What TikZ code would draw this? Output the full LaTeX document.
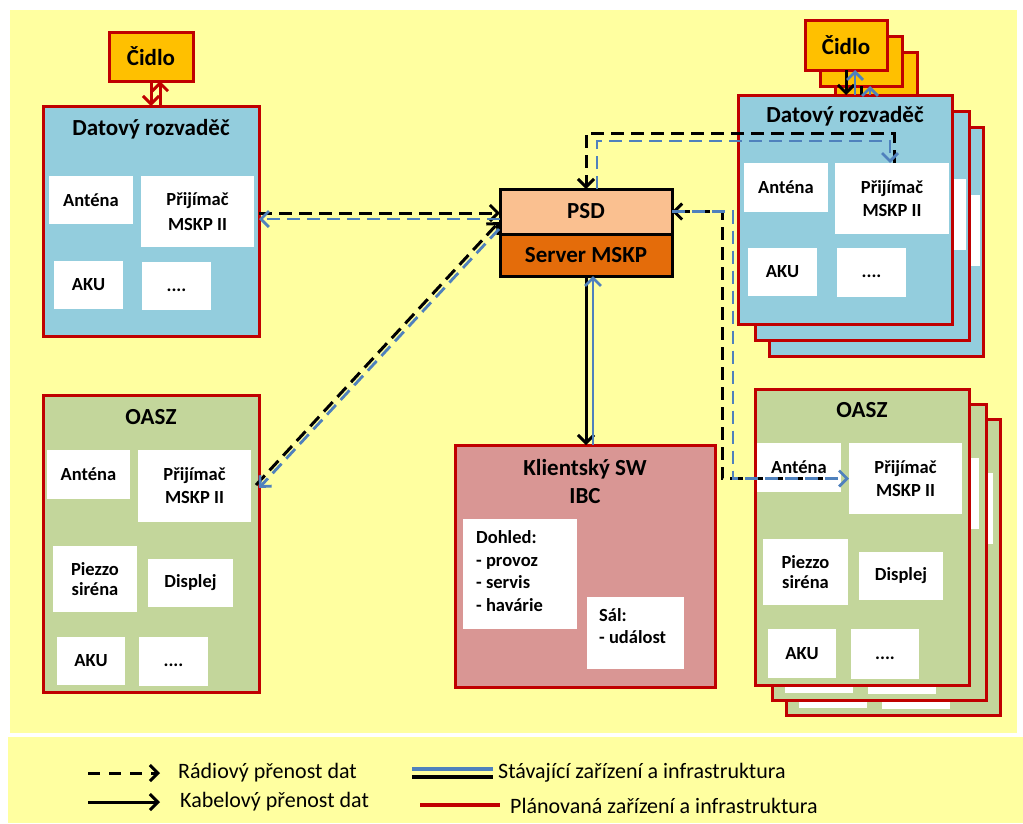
\documentclass[tikz,border=0pt]{standalone}
\usepackage{fontspec}
\setmainfont{Carlito}
\usetikzlibrary{arrows.meta,calc}

\definecolor{panel}{HTML}{FFFFA0}
\definecolor{frame}{HTML}{C00000}
\definecolor{rackblue}{HTML}{93CDDD}
\definecolor{sirengreen}{HTML}{C3D69B}
\definecolor{clientpink}{HTML}{D99694}
\definecolor{sensor}{HTML}{FFC000}
\definecolor{psdfill}{HTML}{FAC090}
\definecolor{srvfill}{HTML}{E46C0A}
\definecolor{linkblue}{HTML}{4F81BD}

\newcommand\moredots{\raisebox{-5pt}[0pt][0pt]{....}}

\tikzset{
  % rectangle given by its two corners (x1,y1) (x2,y2)
  area/.style n args={4}{minimum width={(#3)-(#1)}, minimum height={(#4)-(#2)},
                         at={({((#1)+(#3))/2},{((#2)+(#4))/2})}},
  unit/.style={draw=frame, line width=3pt, inner sep=0pt, outer sep=0pt},
  rack/.style={unit, fill=rackblue},
  siren/.style={unit, fill=sirengreen},
  client/.style={unit, fill=clientpink},
  sensorbox/.style={unit, fill=sensor, font=\bfseries\fontsize{23}{27}\selectfont},
  part/.style={fill=white, inner sep=0pt, outer sep=0pt, align=center,
               font=\bfseries\fontsize{18.5}{23}\selectfont},
  tightpart/.style={part, font=\bfseries\fontsize{18.5}{20.5}\selectfont},
  blank/.style={fill=white, inner sep=0pt, outer sep=0pt},
  caption/.style={inner sep=0pt, align=center, font=\bfseries\fontsize{23}{28}\selectfont},
  notes/.style={inner sep=0pt, align=left, anchor=west, font=\bfseries\fontsize{18.5}{22.5}\selectfont},
  psdbox/.style={draw=black, line width=3pt, inner sep=0pt, outer sep=0pt,
                 font=\bfseries\fontsize{23}{28}\selectfont},
  barb/.style={-{Straight Barb[length=8pt,width=16pt]}},
  radioK/.style={draw=black, line width=3pt, dash pattern=on 13pt off 7pt},
  radioB/.style={draw=linkblue, line width=2.8pt, dash pattern=on 13pt off 7pt},
  cableK/.style={draw=black, line width=3pt},
  cableB/.style={draw=linkblue, line width=2.8pt},
  cableR/.style={draw=frame, line width=3pt},
  legendtext/.style={inner sep=0pt, anchor=west, font=\fontsize{22}{26}\selectfont},
}

\begin{document}
\begin{tikzpicture}[x=1pt,y=-1pt]
\useasboundingbox (0,0) rectangle (1023,823);
\fill[white] (0,0) rectangle (1023,823);
\fill[panel] (10,10) rectangle (1017,733);
\fill[panel] (8,737) rectangle (1023,823);

% ---------- left sensor and data cabinet ----------
\node[sensorbox, area={109}{32}{193}{81}] (cl) {Čidlo};
\node[rack, area={43}{106}{259}{336}] (dl) {};
\node[caption] (dl-t) at (151,129) {Datový rozvaděč};
\node[part, area={49}{176}{133}{224}] (dl-a) {Anténa};
\node[part, area={141}{176}{254}{247}, font=\bfseries\fontsize{18.5}{25}\selectfont] (dl-r) {Přijímač\\MSKP II};
\node[part, area={54}{261}{123}{309}] (dl-k) {AKU};
\node[part, area={142}{262}{211}{310}] (dl-x) {\moredots};

% ---------- left siren unit ----------
\node[siren, area={43}{395}{259}{692}] (ol) {};
\node[caption] (ol-t) at (151,417) {OASZ};
\node[part, area={47}{450}{130}{499}] (ol-a) {Anténa};
\node[part, area={138}{450}{251}{522}] (ol-r) {Přijímač\\MSKP II};
\node[tightpart, area={53}{546}{137}{612}] (ol-p) {Piezzo\\siréna};
\node[part, area={148}{559}{233}{607}] (ol-d) {Displej};
\node[part, area={57}{637}{125}{685}] (ol-k) {AKU};
\node[part, area={139}{637}{208}{686}] (ol-x) {\moredots};

% ---------- central server ----------
\node[psdbox, fill=psdfill, area={500}{189}{672}{234}] (psd) {PSD};
\node[psdbox, fill=srvfill, area={500}{234}{672}{276}] (srv) {Server MSKP};

% ---------- client software ----------
\node[client, area={455}{445}{715}{687}] (kl) {};
\node[caption] (kl-t) at (585,481) {Klientský SW\\IBC};
\node[blank, area={463}{519}{577}{629}] (kl-d) {};
\node[notes] (kl-dt) at (476,571) {Dohled:\\- provoz\\- servis\\- havárie};
\node[blank, area={587}{597}{684}{669}] (kl-s) {};
\node[notes] (kl-st) at (599,626) {Sál:\\- událost};

% ---------- right sensors (stacked) ----------
\foreach \n/\dx/\dy in {3/30/32, 2/15/16}{
  \node[sensorbox, area={805+\dx}{20+\dy}{887+\dx}{70+\dy}] (cr\n) {};
}
\node[sensorbox, area={805}{20}{887}{70}] (cr1) {Čidlo};

% ---------- right data cabinets (stacked) ----------
\foreach \n/\dx/\dy in {3/31/32, 2/17/16}{
  \node[rack, area={738+\dx}{95+\dy}{952+\dx}{324+\dy}] (dr\n) {};
  \node[blank, area={744+\dx}{163+\dy}{828+\dx}{212+\dy}] (dr\n-a) {};
  \node[blank, area={835+\dx}{163+\dy}{949+\dx}{234+\dy}] (dr\n-r) {};
  \node[blank, area={748+\dx}{248+\dy}{817+\dx}{296+\dy}] (dr\n-k) {};
  \node[blank, area={837+\dx}{248+\dy}{906+\dx}{297+\dy}] (dr\n-x) {};
}
\node[rack, area={738}{95}{952}{324}] (dr1) {};
\node[caption] (dr1-t) at (845,116) {Datový rozvaděč};
\node[part, area={744}{163}{828}{212}] (dr1-a) {Anténa};
\node[part, area={835}{163}{949}{234}] (dr1-r) {Přijímač\\MSKP II};
\node[part, area={748}{248}{817}{296}] (dr1-k) {AKU};
\node[part, area={837}{248}{906}{297}] (dr1-x) {\moredots};

% ---------- right siren units (stacked) ----------
\foreach \n/\dx/\dy in {3/31/30, 2/17/15}{
  \node[siren, area={755+\dx}{389+\dy}{969+\dx}{685+\dy}] (or\n) {};
  \node[blank, area={757+\dx}{443+\dy}{841+\dx}{492+\dy}] (or\n-a) {};
  \node[blank, area={849+\dx}{443+\dy}{962+\dx}{514+\dy}] (or\n-r) {};
  \node[blank, area={763+\dx}{539+\dy}{848+\dx}{605+\dy}] (or\n-p) {};
  \node[blank, area={859+\dx}{552+\dy}{943+\dx}{600+\dy}] (or\n-d) {};
  \node[blank, area={768+\dx}{629+\dy}{836+\dx}{678+\dy}] (or\n-k) {};
  \node[blank, area={851+\dx}{629+\dy}{919+\dx}{679+\dy}] (or\n-x) {};
}
\node[siren, area={755}{389}{969}{685}] (or1) {};
\node[caption] (or1-t) at (862,410) {OASZ};
\node[part, area={757}{443}{841}{492}] (or1-a) {Anténa};
\node[part, area={849}{443}{962}{514}] (or1-r) {Přijímač\\MSKP II};
\node[tightpart, area={763}{539}{848}{605}] (or1-p) {Piezzo\\siréna};
\node[part, area={859}{552}{943}{600}] (or1-d) {Displej};
\node[part, area={768}{629}{836}{678}] (or1-k) {AKU};
\node[part, area={851}{629}{919}{679}] (or1-x) {\moredots};

% ---------- routing levels ----------
\coordinate (topK) at (0,133);
\coordinate (topB) at (0,141);
\coordinate (sideK) at (722,0);
\coordinate (sideB) at (733,0);

% ---------- sensor cables ----------
\draw[cableR, barb] (cl.south) -- (cl.south |- dl.north);
\draw[cableR, barb] ([xshift=9pt]cl.south |- dl.north) -- ([xshift=9pt]cl.south);
\draw[cableK, barb] (cr1.south) -- (cr1.south |- dr1.north);
\draw[cableB, barb] ([xshift=9pt]cr1.south |- dr1.north) -- ([xshift=9pt]cr1.south);
\draw[cableK] (cr2.south) -- (cr2.south |- dr1.north);
\draw[cableB, barb] ([xshift=9pt]cr2.south |- dr1.north) -- ([xshift=9pt]cr2.south);

% ---------- radio links ----------
\draw[radioK, barb] ([yshift=-1.5pt]dl.east |- psd.west) -- ([yshift=-1.5pt]psd.west);
\draw[radioB, barb] ([yshift=-7.5pt]psd.west) -- ([yshift=-7.5pt]psd.west -| dl.east);

\draw[radioK, barb] ([shift={(-3pt,1pt)}]ol.east |- ol-r.east) -- ([shift={(-1pt,12pt)}]psd.south west);
\draw[radioB, barb] ([shift={(-1pt,5pt)}]psd.south west) -- ([yshift=-2pt]ol.east |- ol-r.east);

\draw[radioK, barb] ([xshift=2pt]dr1-r.north) -- ([xshift=2pt]dr1-r.north |- topK) -| (psd.north);
\draw[radioB, barb] ([xshift=11pt]psd.north) -- ([xshift=11pt]psd.north |- topB) -| ([xshift=-2pt]dr1-r.north);

\draw[radioK, barb] ([xshift=-26pt]or1-r.west) -| (sideK |- psd.east) -- (psd.east);
\draw[radioB, barb] (psd.east) -- (sideB |- psd.east) |- (or1-r.west);

% ---------- cable link server / client ----------
\draw[cableK, barb] (srv.south) -- (srv.south |- kl.north);
\draw[cableB, barb] ([xshift=7pt]srv.south |- kl.north) -- ([xshift=7pt]srv.south);

% ---------- legend ----------
\coordinate (lg-r0) at (88,773);  \coordinate (lg-r1) at (160,773);
\coordinate (lg-c0) at (88,802);  \coordinate (lg-c1) at (160,802);
\coordinate (lg-e0) at (412,769); \coordinate (lg-e1) at (493,769);
\coordinate (lg-f0) at (412,777); \coordinate (lg-f1) at (493,777);
\coordinate (lg-p0) at (420,805); \coordinate (lg-p1) at (500,805);
\draw[draw=black, line width=3pt, dash pattern=on 12pt off 9pt, barb] (lg-r0) -- (lg-r1);
\draw[cableK, barb] (lg-c0) -- (lg-c1);
\draw[cableB, line width=3.5pt] (lg-e0) -- (lg-e1);
\draw[cableK, line width=3.5pt] (lg-f0) -- (lg-f1);
\draw[cableR, line width=3.5pt] (lg-p0) -- (lg-p1);
\node[legendtext] (lg-rt) at (178,773) {Rádiový přenost dat};
\node[legendtext] (lg-ct) at (180,802) {Kabelový přenost dat};
\node[legendtext] (lg-et) at (498,773) {Stávající zařízení a infrastruktura};
\node[legendtext] (lg-pt) at (510,806) {Plánovaná zařízení a infrastruktura};
\end{tikzpicture}
\end{document}
